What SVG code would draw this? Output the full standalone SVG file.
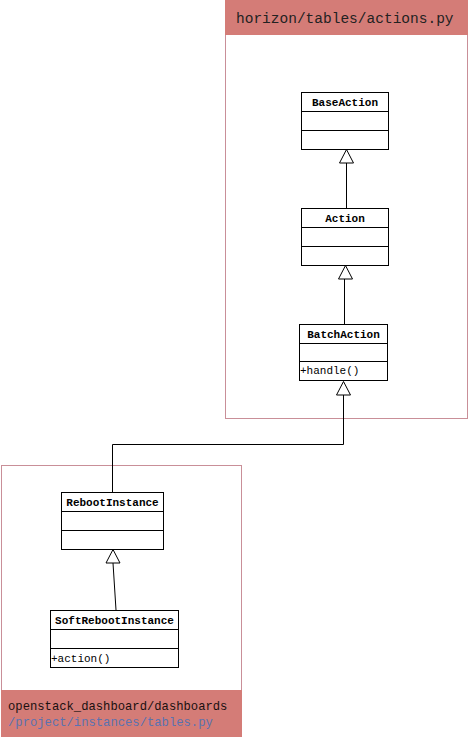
<svg xmlns="http://www.w3.org/2000/svg" width="469" height="737" viewBox="0 0 469 737">
<style>
.pkg{fill:#fff;stroke:#c98f98;stroke-width:1}
.hdr{fill:#d47c77}
.box{fill:#fff;stroke:#000;stroke-width:1}
.ln{stroke:#000;stroke-width:1;fill:none}
.nm{font-family:"Liberation Mono","DejaVu Sans Mono",monospace;font-weight:bold;font-size:11px;fill:#000;text-anchor:middle}
.op{font-family:"Liberation Mono","DejaVu Sans Mono",monospace;font-size:11px;fill:#000}
.pt{font-family:"Liberation Mono","DejaVu Sans Mono",monospace;font-size:14.5px;fill:#222}
.ft{font-family:"Liberation Mono","DejaVu Sans Mono",monospace;font-size:12.2px}
.tri{fill:#fff;stroke:#000;stroke-width:1}
</style>
<g id="pkg-actions">
<rect class="pkg" x="225.5" y="0.5" width="242" height="418"/>
<rect class="hdr" x="225" y="0" width="243" height="35"/>
<text class="pt" x="236" y="23">horizon/tables/actions.py</text>
</g>
<g id="pkg-instances">
<rect class="pkg" x="1.5" y="465.5" width="240" height="271"/>
<rect class="hdr" x="1" y="690" width="241" height="47"/>
<text class="ft" x="8" y="710" fill="#1a1010">openstack_dashboard/dashboards</text>
<text class="ft" x="8" y="726" fill="#5a72b0">/project/instances/tables.py</text>
</g>
<g id="connectors">
<path class="ln" d="M346.5 208V163"/>
<polygon class="tri" points="346.5,149.5 339.5,163 353.5,163"/>
<path class="ln" d="M344.5 324V279"/>
<polygon class="tri" points="345.5,265.5 338.5,279 352.5,279"/>
<path class="ln" d="M112.5 492V444.5H343.5V395"/>
<polygon class="tri" points="343.5,381.5 336.5,395 350.5,395"/>
<path class="ln" d="M113 563L116 610"/>
<polygon class="tri" points="113,549.5 106,563 120,563"/>
</g>
<g id="BaseAction">
<rect class="box" x="301.5" y="92.5" width="87" height="57"/>
<path class="ln" d="M301.5 111.5H388.5M301.5 130.5H388.5"/>
<text class="nm" x="345" y="106">BaseAction</text>
</g>
<g id="Action">
<rect class="box" x="301.5" y="208.5" width="87" height="57"/>
<path class="ln" d="M301.5 227.5H388.5M301.5 246.5H388.5"/>
<text class="nm" x="345" y="222">Action</text>
</g>
<g id="BatchAction">
<rect class="box" x="299.5" y="324.5" width="88" height="56"/>
<path class="ln" d="M299.5 343.5H387.5M299.5 361.5H387.5"/>
<text class="nm" x="343.5" y="338">BatchAction</text>
<text class="op" x="300" y="374">+handle()</text>
</g>
<g id="RebootInstance">
<rect class="box" x="61.5" y="492.5" width="102" height="57"/>
<path class="ln" d="M61.5 511.5H163.5M61.5 530.5H163.5"/>
<text class="nm" x="112.5" y="506">RebootInstance</text>
</g>
<g id="SoftRebootInstance">
<rect class="box" x="50.5" y="610.5" width="128" height="57"/>
<path class="ln" d="M50.5 629.5H178.5M50.5 648.5H178.5"/>
<text class="nm" x="114.5" y="624">SoftRebootInstance</text>
<text class="op" x="51" y="662">+action()</text>
</g>
</svg>
